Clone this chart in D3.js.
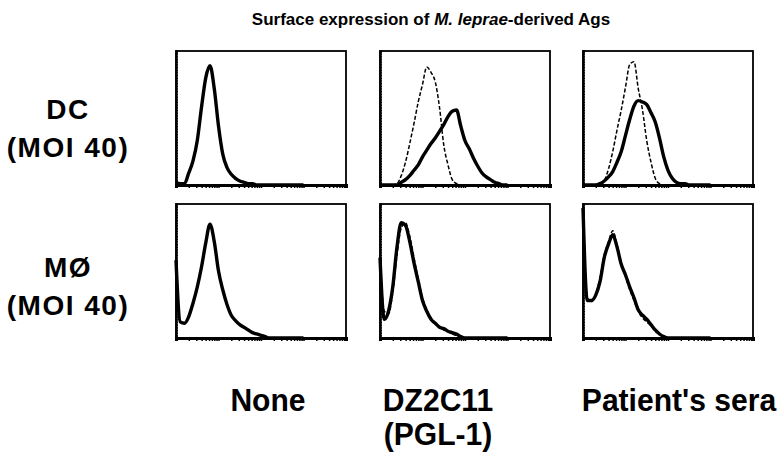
<!DOCTYPE html>
<html><head><meta charset="utf-8">
<script src="https://cdn.jsdelivr.net/npm/d3@7"></script>
<style>body{margin:0;background:#fff}svg{display:block}text{font-family:"Liberation Sans",Arial,sans-serif;font-weight:bold;fill:#000}</style>
</head><body><svg id="c" width="783" height="454"></svg>
<script>
// log10 fluorescence grid (decades)
const logGrid = d3.range(0, 31).map(i => i / 10);
const columns = ["None", "DZ2C11|(PGL-1)", "Patient's sera"];
const rows = ["DC|(MOI 40)", "MØ|(MOI 40)"];
// normalized cell counts (solid = antibody, dashed = control)
const dcNoneSolid   = [0.02,0.01,0.01,0.09,0.18,0.33,0.58,0.80,0.89,0.72,0.44,0.23,0.13,0.08,0.05,0.03,0.02,0.01,0.01,0,0,0,0,0,0,0,0,0,0,0,0];
const dcDzSolid     = [0,0,0,0,0,0.02,0.04,0.07,0.11,0.15,0.21,0.26,0.31,0.35,0.40,0.45,0.51,0.55,0.56,0.44,0.33,0.27,0.20,0.14,0.09,0.06,0.04,0.02,0.01,0,0];
const dcDzDashed    = [0,0,0,0,0.01,0.07,0.17,0.31,0.46,0.62,0.75,0.88,0.84,0.77,0.58,0.30,0.15,0.04,0.01,0,0,0,0,0,0,0,0,0,0,0,0];
const dcSeraSolid   = [0,0,0,0,0.01,0.03,0.06,0.10,0.17,0.25,0.37,0.49,0.59,0.63,0.62,0.60,0.54,0.47,0.35,0.21,0.11,0.05,0.02,0.01,0.01,0,0,0,0,0,0];
const dcSeraDashed  = [0,0,0,0,0,0.03,0.12,0.25,0.41,0.56,0.73,0.90,0.92,0.72,0.56,0.33,0.17,0.05,0.01,0,0,0,0,0,0,0,0,0,0,0,0];
const moNoneSolid   = [0.58,0.12,0.11,0.16,0.26,0.38,0.53,0.71,0.85,0.72,0.50,0.36,0.25,0.17,0.13,0.10,0.08,0.06,0.04,0.03,0.02,0.01,0,0,0,0,0,0,0,0,0];
const moDzSolid     = [0.60,0.14,0.20,0.38,0.68,0.86,0.84,0.72,0.56,0.42,0.28,0.20,0.14,0.11,0.08,0.07,0.05,0.04,0.03,0.01,0,0,0,0,0,0,0,0,0,0,0];
const moDzDashed    = [0.62,0.20,0.18,0.34,0.62,0.82,0.86,0.76,0.60,0.44,0.30,0.21,0.15,0.11,0.08,0.06,0.05,0.03,0.02,0.01,0,0,0,0,0,0,0,0,0,0,0];
const moSeraSolid   = [0.97,0.28,0.28,0.32,0.42,0.60,0.70,0.77,0.68,0.55,0.47,0.38,0.30,0.21,0.17,0.14,0.10,0.06,0.03,0.01,0,0,0,0,0,0,0,0,0,0,0];
const moSeraDashed  = [0.97,0.30,0.27,0.33,0.45,0.62,0.72,0.80,0.70,0.56,0.46,0.36,0.28,0.20,0.15,0.12,0.09,0.05,0.03,0.01,0,0,0,0,0,0,0,0,0,0,0];

const panels = [
  {r:0,c:0,solid:dcNoneSolid,dashed:null},
  {r:0,c:1,solid:dcDzSolid,dashed:dcDzDashed},
  {r:0,c:2,solid:dcSeraSolid,dashed:dcSeraDashed},
  {r:1,c:0,solid:moNoneSolid,dashed:null},
  {r:1,c:1,solid:moDzSolid,dashed:moDzDashed},
  {r:1,c:2,solid:moSeraSolid,dashed:moSeraDashed}
];

const svg = d3.select("#c");
const colX = [176, 380, 583], pw = 170;
const rowY = [51, 204], ph = 134;

svg.append("text").attr("x", 431).attr("y", 25).attr("text-anchor","middle").attr("font-size",17)
  .call(t => { t.append("tspan").text("Surface expression of ");
               t.append("tspan").attr("font-style","italic").text("M. leprae");
               t.append("tspan").text("-derived Ags"); });

panels.forEach(p => {
  const g = svg.append("g").attr("transform", `translate(${colX[p.c]},${rowY[p.r]})`);
  const x = d3.scaleLinear().domain([0,4]).range([0,pw]);
  const xl = d3.scaleLog().domain([1,1e4]).range([0,pw]);
  const y = d3.scaleLinear().domain([0,1]).range([ph,0]);
  g.append("rect").attr("width",pw).attr("height",ph).attr("fill","none").attr("stroke","#000").attr("stroke-width",1.8);
  g.append("g").attr("transform",`translate(0,${ph})`)
    .call(d3.axisBottom(xl).tickValues(xl.ticks()).tickSize(3).tickFormat(""))
    .call(a => a.select(".domain").attr("stroke-width",3))
    .call(a => a.selectAll(".tick line").attr("stroke-width",1.5));
  g.append("g").call(d3.axisLeft(y).ticks(45).tickSize(-2).tickFormat(""))
    .call(a => a.select(".domain").attr("stroke-width",2.4))
    .call(a => a.selectAll(".tick line").attr("stroke-width",1.2));
  const line = d3.line().x((d,i)=>x(logGrid[i])).y(d=>y(d)).curve(d3.curveMonotoneX);
  if (p.dashed) g.append("path").attr("d", line(p.dashed)).attr("fill","none").attr("stroke","#000")
      .attr("stroke-width",1.5).attr("stroke-dasharray","4,2");
  g.append("path").attr("d", line(p.solid)).attr("fill","none").attr("stroke","#000")
      .attr("stroke-width",3.4).attr("stroke-linejoin","round");
});

rows.forEach((r,i) => {
  const lines = r.split("|");
  const t = svg.append("text").attr("text-anchor","middle").attr("font-size",28).attr("letter-spacing",1.5);
  lines.forEach((l,j) => t.append("tspan").attr("x",68).attr("y",[119,277][i] + j*38).text(l));
});
columns.forEach((c,i) => {
  const lines = c.split("|");
  const t = svg.append("text").attr("text-anchor","middle").attr("font-size",32)
    .attr("transform", `translate(${[268,438,679][i]},0) scale(0.94,1)`);
  lines.forEach((l,j) => t.append("tspan").attr("x",0).attr("y",411 + j*34).text(l));
});
</script></body></html>
